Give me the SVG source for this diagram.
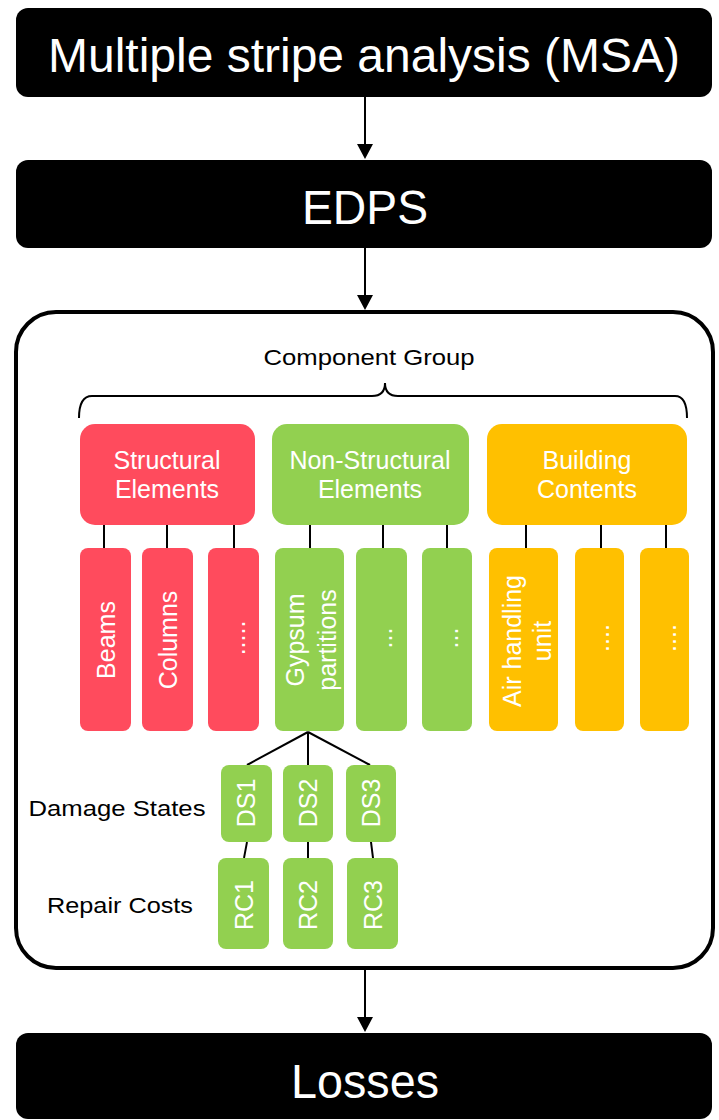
<svg xmlns="http://www.w3.org/2000/svg" width="719" height="1120" viewBox="0 0 719 1120">
  <style>
    .blk { fill: #000; }
    .big { font-family: "Liberation Sans Narrow", "Liberation Sans", Arial, sans-serif; font-size: 48px; fill: #fff; text-anchor: middle; }
    .lbl { font-family: "Liberation Sans", Arial, sans-serif; font-size: 25px; fill: #fff; text-anchor: middle; }
    .cap { font-family: "Liberation Sans", Arial, sans-serif; font-size: 22px; fill: #000; text-anchor: middle; }
    .red { fill: #FF4B5D; }
    .grn { fill: #92D050; }
    .yel { fill: #FFC000; }
    .ln { stroke: #000; stroke-width: 2; fill: none; }
  </style>

  <!-- top flow boxes -->
  <g id="msa">
    <rect class="blk" x="16" y="8" width="696" height="89" rx="12"/>
    <text class="big" x="364" y="72" textLength="632" lengthAdjust="spacingAndGlyphs">Multiple stripe analysis (MSA)</text>
  </g>
  <g id="edps">
    <rect class="blk" x="16" y="160" width="696" height="88" rx="12"/>
    <text class="big" x="365" y="224" textLength="126" lengthAdjust="spacingAndGlyphs">EDPS</text>
  </g>

  <!-- container of the component breakdown -->
  <g id="components">
    <rect x="16" y="312" width="697" height="656" rx="40" fill="#fff" stroke="#000" stroke-width="4"/>
    <text class="cap" x="369" y="365" textLength="211" lengthAdjust="spacingAndGlyphs">Component Group</text>
    <path class="ln" d="M79,418 Q79,396 92,396 L372,396 Q385,396 385,383 Q385,396 398,396 L675,396 Q687,396 687,418"/>
    <text class="cap" x="117" y="816" textLength="177" lengthAdjust="spacingAndGlyphs">Damage States</text>
    <text class="cap" x="120" y="913" textLength="146" lengthAdjust="spacingAndGlyphs">Repair Costs</text>
  </g>

  <g id="losses">
    <rect class="blk" x="16" y="1033" width="696" height="86" rx="12"/>
    <text class="big" x="365" y="1098" textLength="148" lengthAdjust="spacingAndGlyphs">Losses</text>
  </g>

  <!-- connectors -->
  <g id="connectors">
    <line class="ln" x1="365" y1="97" x2="365" y2="146"/>
    <polygon points="357,144 373,144 365,159" fill="#000"/>
    <line class="ln" x1="365" y1="248" x2="365" y2="296"/>
    <polygon points="357,295 373,295 365,310" fill="#000"/>
    <line class="ln" x1="365" y1="970" x2="365" y2="1019"/>
    <polygon points="357,1017 373,1017 365,1032" fill="#000"/>

    <!-- group to component links -->
    <line class="ln" x1="104" y1="525" x2="104" y2="548"/>
    <line class="ln" x1="167" y1="525" x2="167" y2="548"/>
    <line class="ln" x1="234" y1="525" x2="234" y2="548"/>
    <line class="ln" x1="310" y1="525" x2="310" y2="548"/>
    <line class="ln" x1="383" y1="525" x2="383" y2="548"/>
    <line class="ln" x1="447" y1="525" x2="447" y2="548"/>
    <line class="ln" x1="526" y1="525" x2="526" y2="548"/>
    <line class="ln" x1="601" y1="525" x2="601" y2="548"/>
    <line class="ln" x1="666" y1="525" x2="666" y2="548"/>

    <!-- gypsum partitions to damage states -->
    <line class="ln" x1="308" y1="732" x2="247" y2="765"/>
    <line class="ln" x1="308" y1="732" x2="308" y2="765"/>
    <line class="ln" x1="308" y1="732" x2="370" y2="765"/>
    <!-- damage states to repair costs -->
    <line class="ln" x1="247" y1="842" x2="244" y2="858"/>
    <line class="ln" x1="308" y1="842" x2="308" y2="858"/>
    <line class="ln" x1="371" y1="842" x2="373" y2="858"/>
  </g>

  <!-- component groups -->
  <g id="structural">
    <rect class="red" x="80" y="424" width="175" height="101" rx="15"/>
    <text class="lbl" x="167" y="469">Structural</text>
    <text class="lbl" x="167" y="498">Elements</text>
  </g>
  <g id="nonstructural">
    <rect class="grn" x="272" y="424" width="197" height="101" rx="15"/>
    <text class="lbl" x="370" y="469">Non-Structural</text>
    <text class="lbl" x="370" y="498">Elements</text>
  </g>
  <g id="contents">
    <rect class="yel" x="487" y="424" width="200" height="101" rx="15"/>
    <text class="lbl" x="587" y="469">Building</text>
    <text class="lbl" x="587" y="498">Contents</text>
  </g>

  <!-- components -->
  <g id="beams">
    <rect class="red" x="80" y="548" width="51" height="183" rx="8"/>
    <text class="lbl" transform="translate(106,640) rotate(-90)" x="0" y="9">Beams</text>
  </g>
  <g id="columns">
    <rect class="red" x="142" y="548" width="51" height="183" rx="8"/>
    <text class="lbl" transform="translate(168,640) rotate(-90)" x="0" y="9">Columns</text>
  </g>
  <g id="structural-more">
    <rect class="red" x="208" y="548" width="51" height="183" rx="8"/>
    <text class="lbl" transform="translate(237,638) rotate(-90)" x="0" y="8">.....</text>
  </g>
  <g id="gypsum">
    <rect class="grn" x="275" y="548" width="69" height="183" rx="8"/>
    <text class="lbl" transform="translate(295,640) rotate(-90)" x="0" y="9">Gypsum</text>
    <text class="lbl" transform="translate(327,640) rotate(-90)" x="0" y="9">partitions</text>
  </g>
  <g id="nonstructural-more-1">
    <rect class="grn" x="356" y="548" width="51" height="183" rx="8"/>
    <text class="lbl" transform="translate(384,638) rotate(-90)" x="0" y="8">...</text>
  </g>
  <g id="nonstructural-more-2">
    <rect class="grn" x="422" y="548" width="50" height="183" rx="8"/>
    <text class="lbl" transform="translate(450,638) rotate(-90)" x="0" y="8">...</text>
  </g>
  <g id="air-handling">
    <rect class="yel" x="489" y="548" width="69" height="183" rx="8"/>
    <text class="lbl" transform="translate(512,641) rotate(-90)" x="0" y="9">Air handling</text>
    <text class="lbl" transform="translate(542,641) rotate(-90)" x="0" y="9">unit</text>
  </g>
  <g id="contents-more-1">
    <rect class="yel" x="575" y="548" width="49" height="183" rx="8"/>
    <text class="lbl" transform="translate(601,638) rotate(-90)" x="0" y="8">....</text>
  </g>
  <g id="contents-more-2">
    <rect class="yel" x="640" y="548" width="49" height="183" rx="8"/>
    <text class="lbl" transform="translate(668,638) rotate(-90)" x="0" y="8">....</text>
  </g>

  <!-- damage states -->
  <g id="ds1">
    <rect class="grn" x="221" y="765" width="51" height="77" rx="8"/>
    <text class="lbl" transform="translate(246,803) rotate(-90)" x="0" y="9">DS1</text>
  </g>
  <g id="ds2">
    <rect class="grn" x="283" y="765" width="50" height="77" rx="8"/>
    <text class="lbl" transform="translate(308,803) rotate(-90)" x="0" y="9">DS2</text>
  </g>
  <g id="ds3">
    <rect class="grn" x="346" y="765" width="50" height="77" rx="8"/>
    <text class="lbl" transform="translate(371,803) rotate(-90)" x="0" y="9">DS3</text>
  </g>

  <!-- repair costs -->
  <g id="rc1">
    <rect class="grn" x="218" y="858" width="51" height="91" rx="8"/>
    <text class="lbl" transform="translate(244,905) rotate(-90)" x="0" y="9">RC1</text>
  </g>
  <g id="rc2">
    <rect class="grn" x="283" y="858" width="50" height="91" rx="8"/>
    <text class="lbl" transform="translate(308,905) rotate(-90)" x="0" y="9">RC2</text>
  </g>
  <g id="rc3">
    <rect class="grn" x="347" y="858" width="51" height="91" rx="8"/>
    <text class="lbl" transform="translate(373,905) rotate(-90)" x="0" y="9">RC3</text>
  </g>
</svg>
